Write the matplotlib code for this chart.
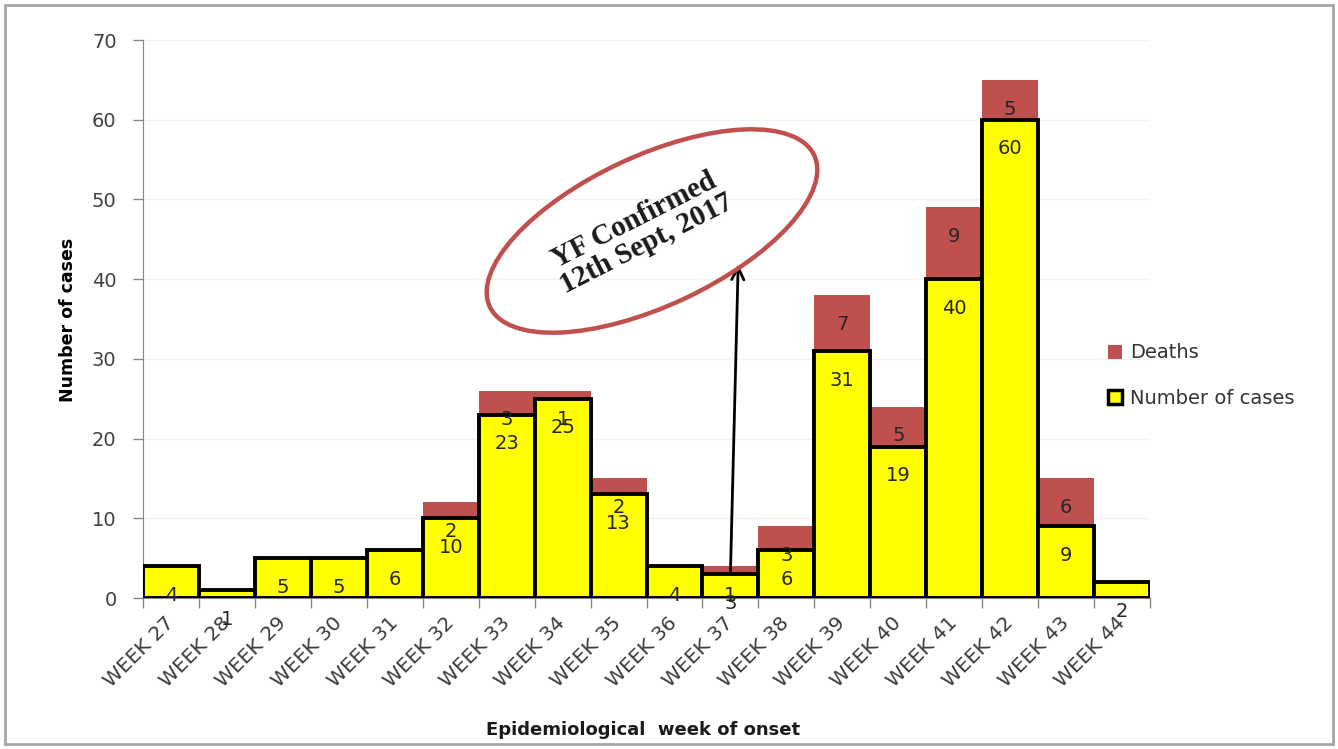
import matplotlib
matplotlib.use('Agg')
import matplotlib.pyplot as plt
import numpy as np
from matplotlib.patches import Ellipse, Rectangle, Patch

weeks = ['WEEK 27', 'WEEK 28', 'WEEK 29', 'WEEK 30', 'WEEK 31', 'WEEK 32',
         'WEEK 33', 'WEEK 34', 'WEEK 35', 'WEEK 36', 'WEEK 37', 'WEEK 38',
         'WEEK 39', 'WEEK 40', 'WEEK 41', 'WEEK 42', 'WEEK 43', 'WEEK 44']
cases = [4, 1, 5, 5, 6, 10, 23, 25, 13, 4, 3, 6, 31, 19, 40, 60, 9, 2]
deaths = [0, 0, 0, 0, 0, 2, 3, 1, 2, 0, 1, 3, 7, 5, 9, 5, 6, 0]

red = '#C0504D'
yellow = '#FFFF00'
txt = '#262626'

fig = plt.figure(figsize=(13.38, 7.49), dpi=100)
ax = fig.add_axes([143/1338, 1-598/749, (1150-143)/1338, (598-40)/749])

x = np.arange(len(weeks))
cases = np.array(cases)
deaths = np.array(deaths)

ax.bar(x, deaths, bottom=cases, width=1.0, color=red, edgecolor='none', zorder=2)
ax.bar(x, cases, width=1.0, color=yellow, edgecolor='black', linewidth=2.8, zorder=3)

# labels sit a fixed distance under the top of each segment
for i in range(len(x)):
    ax.annotate(str(cases[i]), (x[i], cases[i]), xytext=(0, -21), textcoords='offset points',
                ha='center', va='center', fontsize=14, color=txt, zorder=5)
    if deaths[i] > 0:
        ax.annotate(str(deaths[i]), (x[i], cases[i] + deaths[i]), xytext=(0, -21),
                    textcoords='offset points', ha='center', va='center', fontsize=14,
                    color=txt, zorder=5)

ax.set_xlim(-0.5, len(weeks) - 0.5)
ax.set_ylim(0, 70)
ax.set_yticks(range(0, 71, 10))
ax.tick_params(axis='y', direction='out', length=7, width=1, color='#868686',
               labelsize=14, labelcolor='#404040', pad=12)

ax.set_xticks(np.arange(-0.5, len(weeks), 1.0))
ax.set_xticklabels([])
ax.tick_params(axis='x', which='major', direction='out', length=7, width=1, color='#868686')
ax.set_xticks(x, minor=True)
ax.set_xticklabels(weeks, minor=True, rotation=45, ha='right', va='center',
                   rotation_mode='anchor', fontsize=14.5, color='#3a3a3a')
ax.tick_params(axis='x', which='minor', length=0, pad=16)

for s in ['top', 'right']:
    ax.spines[s].set_visible(False)
ax.spines['left'].set_color('#868686')
ax.spines['bottom'].set_color('#868686')
ax.yaxis.grid(True, color='#F2F2F2', linewidth=1)
ax.set_axisbelow(True)

fig.text(68/1338, 1-320/749, 'Number of cases', rotation=90, ha='center', va='center',
         fontsize=12.5, fontweight='bold', color='black')
fig.text(643/1338, 1-730/749, 'Epidemiological  week of onset', ha='center', va='center',
         fontsize=13, fontweight='bold', color='#1a1a1a')

# annotation: arrow from week 37 up into the ellipse
ax.annotate('', xy=(10.14, 42.2), xytext=(10.0, 3.0),
            arrowprops=dict(arrowstyle='->', color='black', lw=2, mutation_scale=22), zorder=6)

ell = Ellipse((6.52, 5.18), 3.58, 1.50, angle=25, transform=fig.dpi_scale_trans,
              fill=False, edgecolor=red, linewidth=3.2)
fig.add_artist(ell)
fig.text(640/1338, 1-232/749, 'YF Confirmed\n12th Sept, 2017', rotation=27,
         ha='center', va='center', fontsize=21, fontweight='bold',
         family='Liberation Serif', color='#1a1a1a', linespacing=1.0,
         rotation_mode='anchor')

handles = [Patch(facecolor=red, edgecolor='none'),
           Patch(facecolor=yellow, edgecolor='black', linewidth=2.5)]
fig.legend(handles, ['Deaths', 'Number of cases'], loc='upper left',
           bbox_to_anchor=(1090/1338, 1-326/749), frameon=False, fontsize=14,
           handlelength=0.75, handleheight=0.75, handletextpad=0.4, labelspacing=1.35,
           labelcolor='#333333')

fig.add_artist(Rectangle((5/1338, 5/749), 1328/1338, 739/749, transform=fig.transFigure,
                         fill=False, edgecolor='#A6A6A6', linewidth=2))

fig.savefig('out.png', dpi=100)
